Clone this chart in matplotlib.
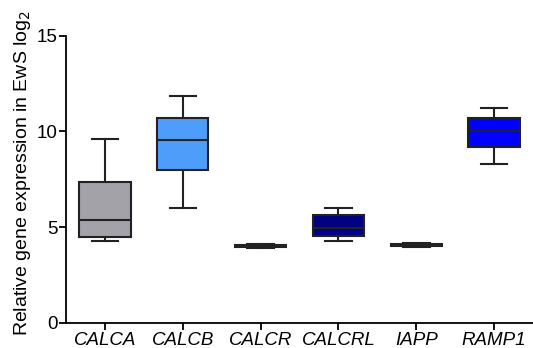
import matplotlib.pyplot as plt

plt.rcParams['font.family'] = ['Liberation Sans', 'DejaVu Sans']

genes = ['CALCA', 'CALCB', 'CALCR', 'CALCRL', 'IAPP', 'RAMP1']
whislo = [4.29, 5.97, 3.90, 4.28, 3.98, 8.32]
q1 = [4.47, 7.98, 3.95, 4.52, 4.03, 9.16]
med = [5.37, 9.53, 4.00, 4.94, 4.08, 10.04]
q3 = [7.38, 10.70, 4.06, 5.64, 4.13, 10.68]
whishi = [9.60, 11.87, 4.12, 5.99, 4.18, 11.22]
colors = ['#a3a2a8', '#4f9dfb', '#000060', '#000080', '#000070', '#0000ff']

stats = []
for i, g in enumerate(genes):
    stats.append({'label': g, 'whislo': whislo[i], 'q1': q1[i], 'med': med[i],
                  'q3': q3[i], 'whishi': whishi[i], 'fliers': []})

fig = plt.figure(figsize=(5.33, 3.48), dpi=100)
ax = fig.add_axes([0.124, 0.073, 0.876, 0.824])

bp = ax.bxp(stats, widths=0.66, patch_artist=True, showfliers=False,
            boxprops=dict(linewidth=1.5, edgecolor='#222222'),
            medianprops=dict(color='#222222', linewidth=1.5),
            whiskerprops=dict(color='#222222', linewidth=1.5),
            capprops=dict(color='#222222', linewidth=1.5),
            capwidths=0.34)
for patch, c in zip(bp['boxes'], colors):
    patch.set_facecolor(c)

ax.set_xlim(0.5, 6.5)
ax.set_ylim(0, 15)
ax.set_yticks([0, 5, 10, 15])
ax.set_xticks(range(1, 7))
ax.set_xticklabels(genes, fontstyle='italic', fontsize=13.5)
ax.tick_params(axis='y', labelsize=13.5, width=1.3, length=5, pad=1)
ax.tick_params(axis='x', width=1.3, length=5, pad=2)
ax.set_ylabel('Relative gene expression in EwS log$_2$', fontsize=14)
ax.yaxis.set_label_coords(-0.071, 0.52)
for s in ['top', 'right']:
    ax.spines[s].set_visible(False)
for s in ['left', 'bottom']:
    ax.spines[s].set_linewidth(1.3)

fig.savefig('out.png', dpi=100)
